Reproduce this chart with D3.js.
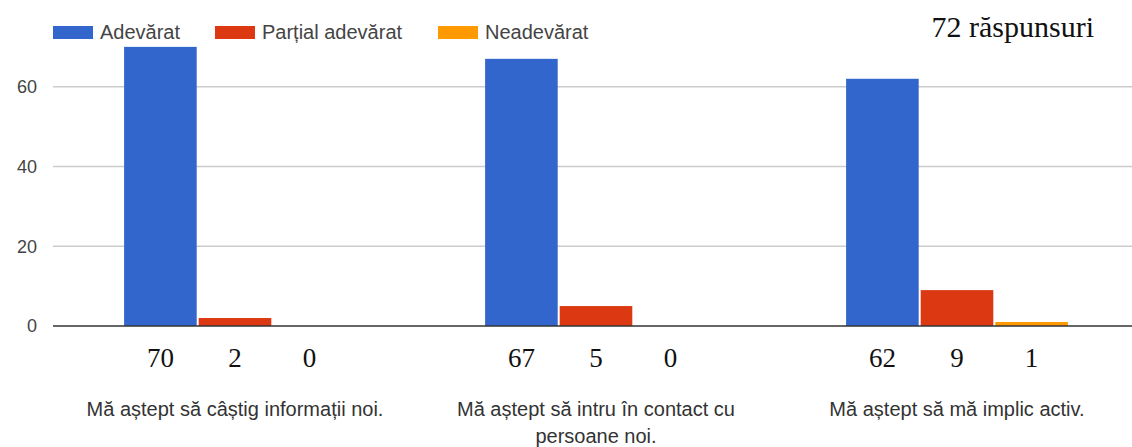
<!DOCTYPE html>
<html>
<head>
<meta charset="utf-8">
<script src="https://cdn.jsdelivr.net/npm/d3@7"></script>
<style>
  body { margin: 0; background: #fff; }
  svg { display: block; }
</style>
</head>
<body>
<svg id="chart" width="1132" height="447"></svg>
<script>
// date
const categories = [
  ["Mă aștept să câștig informații noi."],
  ["Mă aștept să intru în contact cu", "persoane noi."],
  ["Mă aștept să mă implic activ."]
]
const series = ["Adevărat", "Parțial adevărat", "Neadevărat"]
const colors = ["#3366cc", "#dc3912", "#ff9900"]
const adevarat = [70, 67, 62]
const partial = [2, 5, 9]
const neadevarat = [0, 0, 1]
const yTicks = [0, 20, 40, 60]
const total = "72 răspunsuri"

const values = [adevarat, partial, neadevarat]
const svg = d3.select("#chart")

let x0 = d3.scaleBand()
  .domain(d3.range(categories.length))
  .range([54.5, 1137.5])
  .paddingInner(0.38)
  .paddingOuter(0.19)

let x1 = d3.scaleBand()
  .domain(d3.range(series.length))
  .range([0, x0.bandwidth()])

let y = d3.scaleLinear()
  .domain([0, 80])
  .range([326, 7])

// grid
svg.append("g")
  .selectAll("line")
  .data(yTicks.filter(d => d > 0))
  .enter()
  .append("line")
  .attr("x1", 53).attr("x2", 1132)
  .attr("y1", d => y(d)).attr("y2", d => y(d))
  .attr("stroke", "#cccccc")
  .attr("stroke-width", 1.5)

// y labels
let yAxis = svg.append("g")
  .attr("transform", "translate(37,0)")
  .call(d3.axisLeft(y).tickValues(yTicks).tickSize(0).tickPadding(0))
yAxis.select(".domain").remove()
yAxis.selectAll("text")
  .attr("font-family", "Arial, 'Liberation Sans', sans-serif")
  .attr("font-size", 18)
  .attr("fill", "#444")

// bars
categories.forEach((c, i) => {
  let g = svg.append("g").attr("transform", "translate(" + x0(i) + ",0)")
  g.selectAll("rect")
    .data(series.map((s, j) => ({ j: j, v: values[j][i] })))
    .enter()
    .append("rect")
    .attr("x", d => x1(d.j) + 1)
    .attr("width", x1.bandwidth() - 2)
    .attr("y", d => y(d.v))
    .attr("height", d => y(0) - y(d.v))
    .attr("fill", d => colors[d.j])

  // numbers under bars
  g.selectAll("text.num")
    .data(series.map((s, j) => ({ j: j, v: values[j][i] })))
    .enter()
    .append("text")
    .attr("class", "num")
    .attr("x", d => x1(d.j) + x1.bandwidth() / 2)
    .attr("y", 367)
    .attr("text-anchor", "middle")
    .attr("font-family", "'Times New Roman', 'Liberation Serif', serif")
    .attr("font-size", 27)
    .attr("fill", "#111")
    .text(d => d.v)

  // category label
  let t = svg.append("text")
    .attr("text-anchor", "middle")
    .attr("font-family", "Arial, 'Liberation Sans', sans-serif")
    .attr("font-size", 20)
    .attr("fill", "#333")
  c.forEach((line, k) => {
    t.append("tspan")
      .attr("x", x0(i) + x0.bandwidth() / 2)
      .attr("y", 416 + k * 27)
      .text(line)
  })
})

// baseline
svg.append("line")
  .attr("x1", 53).attr("x2", 1132)
  .attr("y1", y(0)).attr("y2", y(0))
  .attr("stroke", "#333")
  .attr("stroke-width", 1.5)

// legend
const legendX = [53, 215, 438]
let lg = svg.append("g")
series.forEach((s, j) => {
  lg.append("rect")
    .attr("x", legendX[j]).attr("y", 26)
    .attr("width", 40).attr("height", 13)
    .attr("fill", colors[j])
  lg.append("text")
    .attr("x", legendX[j] + 47).attr("y", 39)
    .attr("font-family", "Arial, 'Liberation Sans', sans-serif")
    .attr("font-size", 20)
    .attr("fill", "#444")
    .text(s)
})

svg.append("text")
  .attr("x", 1094).attr("y", 37)
  .attr("text-anchor", "end")
  .attr("font-family", "'Times New Roman', 'Liberation Serif', serif")
  .attr("font-size", 30)
  .attr("fill", "#111")
  .text(total)
</script>
</body>
</html>
